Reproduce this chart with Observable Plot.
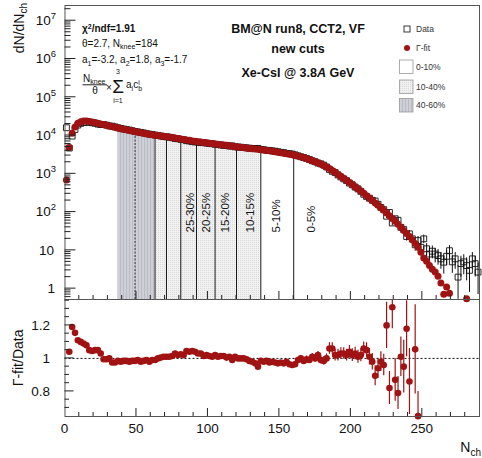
<!DOCTYPE html>
<html><head><meta charset="utf-8">
<script src="https://cdn.jsdelivr.net/npm/d3@7"></script>
<script src="https://cdn.jsdelivr.net/npm/@observablehq/plot@0.6"></script>
<style>
body{margin:0;background:#fff;}
#wrap{position:relative;width:482px;height:458px;overflow:hidden;background:#fff;}
#wrap svg.plot{position:absolute;left:0;overflow:visible;}
</style></head><body>
<div id="wrap">
<svg width="0" height="0" style="position:absolute">
<defs>
<pattern id="hatch4060" width="3" height="4" patternUnits="userSpaceOnUse">
<rect width="3" height="4" fill="#cfcfd7"/><rect width="1" height="4" fill="#babac4"/>
</pattern>
<pattern id="dots1040" width="2" height="2" patternUnits="userSpaceOnUse">
<rect width="2" height="2" fill="#f1f1f1"/><rect width="1" height="1" fill="#dadada"/>
</pattern>
</defs></svg>
</div>
<script>
// ---------------- data ----------------
const nCh = [1,3,5,7,9,11,13,15,17,19,
21,23,25,27,29,31,33,35,37,39,
41,43,45,47,49,51,53,55,57,59,
61,63,65,67,69,71,73,75,77,79,
81,83,85,87,89,91,93,95,97,99,
101,103,105,107,109,111,113,115,117,119,
121,123,125,127,129,131,133,135,137,139,
141,143,145,147,149,151,153,155,157,159,
161,163,165,167,169,171,173,175,177,179,
181,183,185,187,189,191,193,195,197,199,
201,203,205,207,209,211,213,215,217,219,
221,223,225,227,229,231,233,235,237,239,
241,243,245,247,249,251,253,255,257,259,
261,263,265,267,269,271,273,275,277,279,
281,283,285,287,289];

const fitValues = [690,4900,11500,16600,20900,22900,24000,24000,23400,22600,
21900,20900,20000,19300,18600,17800,17200,16400,15800,15100,
14600,14100,13600,13200,12600,12300,11900,11500,11100,10700,
10500,10200,10000,9770,9550,9330,9120,8910,8610,8410,
8130,7940,7670,7500,7240,7080,6920,6760,6610,6460,
6310,6170,6030,5890,5750,5620,5560,5370,5310,5130,
5010,4950,4840,4730,4620,4520,4470,4370,4270,4170,
4070,3980,3890,3800,3670,3550,3470,3350,3240,3160,
3020,2920,2790,2630,2510,2340,2210,2070,1950,1800,
1660,1510,1380,1230,1100,955,851,759,676,596,
525,462,407,355,309,269,232,200,174,150,
129,111,94,80,68,58,48,40,33,27.5,
23,19,15,12,8.9,6.3,5.2,4.0,3.2,2.7,
2.1,1.4,0.71,1.1,0.76,null,null,null,null,null,
0.54,null,null,null,null];

const dataValues = [16000,4710,9660,14400,18800,20800,22000,22200,22300,21600,
20900,19900,19400,19400,18700,17800,17600,16800,16000,15400,
14800,14300,13900,13400,12800,12400,12100,11700,11200,10900,
10600,10300,10000,9720,9460,9240,9030,8780,8360,8250,
7930,7780,7340,7210,6930,6810,6720,6560,6510,6330,
6220,6110,5910,5830,5670,5540,5530,5320,5360,5080,
5010,4950,4840,4750,4690,4610,4610,4600,4340,4260,
4130,4080,3970,3900,3780,3640,3580,3420,3360,3290,
3130,2950,2790,2670,2520,2360,2190,2070,1910,1820,
1690,1510,1300,1160,1080,936,826,737,663,573,
515,449,403,348,292,256,230,204,194,160,
132,116,78,98,52,67,61,40,35,23,
27,20,14,18,12,20,11,8,9.5,8,
7.3,6,4.9,7,9.8,5,6,2,4.5,5,
4,3,6,4.5,2.7];

// statistical errors of the data in the tail (from N_ch = 225 on)
const errBins = nCh.slice(112);
const errValues = [10,11,8,9,9,7,7,5.5,6,5,4.5,5,4,5,4,3.5,3.5,3.3,3.2,2.8,2.5,3,3.5,2.5,2.8,2,2.5,2.7,2.4,2.2,2.8,2.5,2.0];

// ratio Γ-fit / Data (N_ch = 3 ... 247)
const ratioN = nCh.slice(1, 124);
const ratioValues = [1.04,1.19,1.155,1.11,1.10,1.09,1.08,1.05,1.045,1.05,
1.05,1.03,0.995,0.995,1.0,0.975,0.975,0.985,0.98,0.985,
0.985,0.98,0.985,0.985,0.99,0.98,0.985,0.99,0.98,0.99,
0.99,1.0,1.005,1.01,1.01,1.01,1.015,1.03,1.02,1.025,
1.02,1.045,1.04,1.045,1.04,1.03,1.03,1.015,1.02,1.015,
1.01,1.02,1.01,1.015,1.015,1.005,1.01,0.99,1.01,1.0,
1.0,1.0,0.995,0.985,0.98,0.97,0.95,0.985,0.98,0.985,
0.975,0.98,0.975,0.97,0.975,0.97,0.98,0.965,0.96,0.965,
0.99,1.0,0.985,0.995,0.99,1.01,1.0,1.02,0.99,0.985,
1.0,1.06,1.06,1.02,1.02,1.03,1.03,1.02,1.04,1.02,
1.03,1.01,1.02,1.06,1.05,1.01,0.98,0.895,0.94,0.98,
0.96,1.2,0.82,1.31,0.87,0.79,1.01,0.95,1.18,0.86,
null,1.055,0.65];
const ratioErr = [0.004,0.004,0.004,0.004,0.004,0.004,0.004,0.004,0.004,0.004,
0.004,0.004,0.004,0.004,0.004,0.004,0.004,0.004,0.004,0.004,
0.004,0.004,0.004,0.004,0.004,0.004,0.004,0.004,0.004,0.004,
0.004,0.004,0.004,0.004,0.004,0.004,0.004,0.004,0.004,0.004,
0.004,0.004,0.004,0.004,0.004,0.004,0.004,0.004,0.004,0.004,
0.004,0.004,0.004,0.004,0.004,0.004,0.004,0.004,0.004,0.004,
0.005,0.005,0.005,0.005,0.005,0.005,0.005,0.006,0.006,0.006,
0.006,0.007,0.007,0.008,0.01,0.012,0.012,0.012,0.014,0.015,
0.016,0.018,0.018,0.02,0.02,0.02,0.022,0.022,0.024,0.025,
0.026,0.035,0.035,0.035,0.035,0.035,0.035,0.035,0.038,0.038,
0.038,0.04,0.04,0.04,0.045,0.05,0.05,0.06,0.06,0.06,
0.065,0.14,0.10,0.13,0.13,0.10,0.12,0.16,0.17,0.2,
null,0.27,0.15];

// centrality boundaries (N_ch) and class labels
const centileEdges = ["60%","50%","40%","35%","30%","25%","20%","15%","10%","5%"];
const centileCutN = [37,49,63,71,81,92,105,120,137,160];
const classLabels = ["25-30%","20-25%","15-20%","10-15%","5-10%","0-5%"];
const classLabelN = [87.5,99,112.5,129.5,148,172.5];

const yTickExp = [0,1,2,3,4,5,6,7];
const xTickLabels = [0,50,100,150,200,250];
const ratioTickLabels = [0.8,1,1.2];

// ---------------- build ----------------
const FONT = '"Liberation Sans", Arial, Helvetica, sans-serif';
const RED = "#a11313";
const yMin = 0.52, yMax = 2.5e7;

const fitRows = nCh.map((n,i)=>({n, v: fitValues[i]})).filter(d=>d.v!=null);
const dataRows = nCh.map((n,i)=>({n, v: dataValues[i]}));
const errRows = errBins.map((n,i)=>{const v = dataValues[nCh.indexOf(n)]; const e = errValues[i]; return {n, lo: Math.max(v-e, yMin*1.01), hi: v+e};});
const ratioRows = ratioN.map((n,i)=>({n, r: ratioValues[i], e: ratioErr[i]})).filter(d=>d.r!=null);

const edgeN = lab => centileCutN[centileEdges.indexOf(lab)];
const fitAt = x => d3.least(fitRows, d=>Math.abs(d.n-x)).v;
const cutRows = centileEdges.map((lab,i)=>({lab, n: centileCutN[i], top: fitAt(centileCutN[i])}));
const reg4060 = fitRows.filter(d=>d.n>=edgeN("60%") && d.n<=edgeN("40%"));
const reg1040 = fitRows.filter(d=>d.n>=edgeN("40%") && d.n<=edgeN("10%"));
const labelRows = classLabels.map((t,i)=>({t, n: classLabelN[i]}));

const topSvg = Plot.plot({
  width: 482, height: 300,
  marginLeft: 64.5, marginRight: 3, marginTop: 5, marginBottom: 1,
  style: {fontFamily: FONT, background: "transparent", overflow: "visible"},
  x: {domain: [0, 290], axis: null},
  y: {type: "log", domain: [yMin, yMax], axis: null},
  marks: [
    Plot.areaY(reg4060, {x: "n", y1: ()=>yMin, y2: "v", fill: "url(#hatch4060)"}),
    Plot.areaY(reg1040, {x: "n", y1: ()=>yMin, y2: "v", fill: "url(#dots1040)"}),
    Plot.ruleX(cutRows.filter(d=>d.lab!=="60%" && d.lab!=="50%"), {x: "n", y1: ()=>yMin, y2: "top", stroke: "#1a1a1a", strokeWidth: 1}),
    Plot.ruleX(cutRows.filter(d=>d.lab==="50%"), {x: "n", y1: ()=>yMin, y2: "top", stroke: "#333", strokeWidth: 1, strokeDasharray: "2,1.5"}),
    Plot.text(labelRows, {x: "n", frameAnchor: "bottom", dy: -67, text: "t", rotate: -90, textAnchor: "start", lineAnchor: "middle", fontSize: 11.5, fill: "#111", fontFamily: FONT}),
    Plot.ruleX(errRows, {x: "n", y1: "lo", y2: "hi", stroke: "#111", strokeWidth: 1, clip: true}),
    Plot.dot(dataRows, {x: "n", y: "v", symbol: "square", r: 3.3, stroke: "#111", strokeWidth: 0.9, fill: "none"}),
    Plot.dot(fitRows, {x: "n", y: "v", r: 3.5, fill: RED, stroke: "none"}),
    Plot.frame({stroke: "#555", strokeWidth: 1})
  ]
});
topSvg.setAttribute("class", (topSvg.getAttribute("class")||"") + " plot");
topSvg.style.top = "0px";

const botSvg = Plot.plot({
  width: 482, height: 159,
  marginLeft: 64.5, marginRight: 3, marginTop: 0, marginBottom: 42,
  style: {fontFamily: FONT, background: "transparent", overflow: "visible"},
  x: {domain: [0, 290], axis: null},
  y: {domain: [0.648, 1.357], axis: null},
  marks: [
    Plot.ruleY([1], {stroke: "#111", strokeWidth: 1, strokeDasharray: "2,2"}),
    Plot.ruleX(ratioRows, {x: "n", y1: d=>d.r-d.e, y2: d=>d.r+d.e, stroke: RED, strokeWidth: 1.2, clip: true}),
    Plot.dot(ratioRows, {x: "n", y: "r", r: 3.3, fill: RED, stroke: "none"}),
    Plot.frame({stroke: "#555", strokeWidth: 1})
  ]
});
botSvg.setAttribute("class", (botSvg.getAttribute("class")||"") + " plot");
botSvg.style.top = "299px";

const wrap = document.getElementById("wrap");
wrap.appendChild(topSvg);
wrap.appendChild(botSvg);

// ---------------- axes (ticks inside, ROOT style) ----------------
function line(g, x1, y1, x2, y2, stroke="#222") {
  g.append("line").attr("x1",x1).attr("y1",y1).attr("x2",x2).attr("y2",y2).attr("stroke",stroke).attr("stroke-width",1);
}
function txt(g, x, y, parts, o={}) {
  const t = g.append("text").attr("x", x).attr("y", y).attr("font-family", FONT)
    .attr("font-size", o.size||10).attr("fill", o.fill||"#111")
    .attr("text-anchor", o.anchor||"start");
  if (o.weight) t.attr("font-weight", o.weight);
  if (o.rotate) t.attr("transform", `rotate(${o.rotate},${x},${y})`);
  for (const p of parts) {
    const s = typeof p === "string" ? {t: p} : p;
    const ts = t.append("tspan").text(s.t);
    if (s.dy) ts.attr("dy", s.dy);
    if (s.dx) ts.attr("dx", s.dx);
    if (s.size) ts.attr("font-size", s.size);
    if (s.style) ts.attr("font-style", s.style);
    if (s.weight) ts.attr("font-weight", s.weight);
  }
  return t;
}

const gT = d3.select(topSvg);
const xs = topSvg.scale("x"), ys = topSvg.scale("y");
const [xL, xR] = xs.range; const [yB, yT] = ys.range;
for (let v = 10; v < 290; v += 10) { const x = xs.apply(v); line(gT, x, yB, x, yB - (v % 50 === 0 ? 8 : 4)); }
for (let d = -1; d <= 7; d++) for (let k = 1; k <= 9; k++) {
  const v = k * Math.pow(10, d); if (v <= yMin || v >= yMax) continue;
  const y = ys.apply(v); line(gT, xL, y, xL + (k === 1 ? 11 : 6), y);
}
for (const e of yTickExp) {
  const y = ys.apply(Math.pow(10, e)) + 4.8;
  if (e === 0) txt(gT, 55, y, ["1"], {size: 13.5, anchor: "end"});
  else if (e === 1) txt(gT, 54, y, ["10"], {size: 13.5, anchor: "end"});
  else txt(gT, 56, y, ["10", {t: String(e), dy: -6, size: 9.5}], {size: 13.5, anchor: "end"});
}
txt(gT, 23.5, 3, ["dN/dN", {t: "ch", dy: 3.5, size: 10}], {size: 14, anchor: "end", rotate: -90});

// text block
txt(gT, 82, 32, ["\u03C7", {t: "2", dy: -3.5, size: 7}, {t: "/ndf=1.91", dy: 3.5}], {size: 10, weight: "bold"});
txt(gT, 82, 46.5, ["\u03B8=2.7, N", {t: "knee", dy: 2.5, size: 7}, {t: "=184", dy: -2.5}], {size: 10});
txt(gT, 82, 63, ["a", {t: "1", dy: 2.5, size: 7}, {t: "=-3.2, a", dy: -2.5}, {t: "2", dy: 2.5, size: 7}, {t: "=1.8, a", dy: -2.5}, {t: "3", dy: 2.5, size: 7}, {t: "=-1.7", dy: -2.5}], {size: 10});
txt(gT, 83, 81.5, ["N", {t: "knee", dy: 2.5, size: 7}], {size: 10});
line(gT, 82.5, 84.8, 107, 84.8, "#222");
txt(gT, 95, 94, ["\u03B8"], {size: 10, anchor: "middle"});
txt(gT, 109, 90.5, ["\u00D7"], {size: 10, anchor: "middle"});
txt(gT, 118, 92.5, ["\u03A3"], {size: 19, anchor: "middle"});
txt(gT, 118, 74, ["3"], {size: 7, anchor: "middle"});
txt(gT, 118, 102.5, ["i=1"], {size: 7, anchor: "middle"});
txt(gT, 126, 88, ["a", {t: "i", dy: 2.5, size: 7}, {t: "c", dy: -2.5}, {t: "b", dy: 2.5, size: 7}, {t: "i", dx: -3.8, dy: -6, size: 7}], {size: 10});

// title
txt(gT, 298, 32.7, ["BM@N run8, CCT2, VF"], {size: 12.5, weight: "bold", anchor: "middle"});
txt(gT, 298, 53, ["new cuts"], {size: 12.5, weight: "bold", anchor: "middle"});
txt(gT, 298, 76.7, ["Xe-CsI @ 3.8", {t: "A", style: "italic"}, " GeV"], {size: 12.5, weight: "bold", anchor: "middle"});

// legend
gT.append("rect").attr("x", 404).attr("y", 26).attr("width", 6).attr("height", 6).attr("fill", "none").attr("stroke", "#222").attr("stroke-width", 0.9);
txt(gT, 416, 32, ["Data"], {size: 8.5, fill: "#333"});
gT.append("circle").attr("cx", 407).attr("cy", 48).attr("r", 3).attr("fill", RED);
txt(gT, 416, 51, ["\u0393-fit"], {size: 8.5, fill: "#333"});
const legBoxes = [["white", "0-10%", 60], ["url(#dots1040)", "10-40%", 80], ["url(#hatch4060)", "40-60%", 98.5]];
for (const [f, t, y] of legBoxes) {
  gT.append("rect").attr("x", 399.5).attr("y", y).attr("width", 13.5).attr("height", 13.5).attr("fill", f).attr("stroke", "#999").attr("stroke-width", 0.8);
  txt(gT, 416, y + 9.8, [t], {size: 8.5, fill: "#333"});
}

// bottom panel axes
const gB = d3.select(botSvg);
const xs2 = botSvg.scale("x"), ys2 = botSvg.scale("y");
const [yB2, yT2] = ys2.range; const xL2 = xs2.range[0];
for (let v = 10; v < 290; v += 10) { const x = xs2.apply(v); line(gB, x, yB2, x, yB2 - (v % 50 === 0 ? 8 : 4)); }
for (let v = 0.70; v < 1.36; v += 0.05) {
  const vv = Math.round(v * 100) / 100; const y = ys2.apply(vv);
  const major = ratioTickLabels.some(t => Math.abs(t - vv) < 1e-6);
  line(gB, xL2, y, xL2 + (major ? 9 : 4.5), y);
}
for (const t of ratioTickLabels) txt(gB, 50, ys2.apply(t) + 4.8, [String(t)], {size: 13.5, anchor: "end"});
for (const t of xTickLabels) txt(gB, xs2.apply(t), 133.8, [String(t)], {size: 13.5, anchor: "middle"});
txt(gB, 23.5, ys2.apply(1), ["\u0393-fit/Data"], {size: 14, anchor: "middle", rotate: -90});
txt(gB, 481, 153, ["N", {t: "ch", dy: 3.5, size: 10}], {size: 14, anchor: "end"});
</script>
</body></html>
